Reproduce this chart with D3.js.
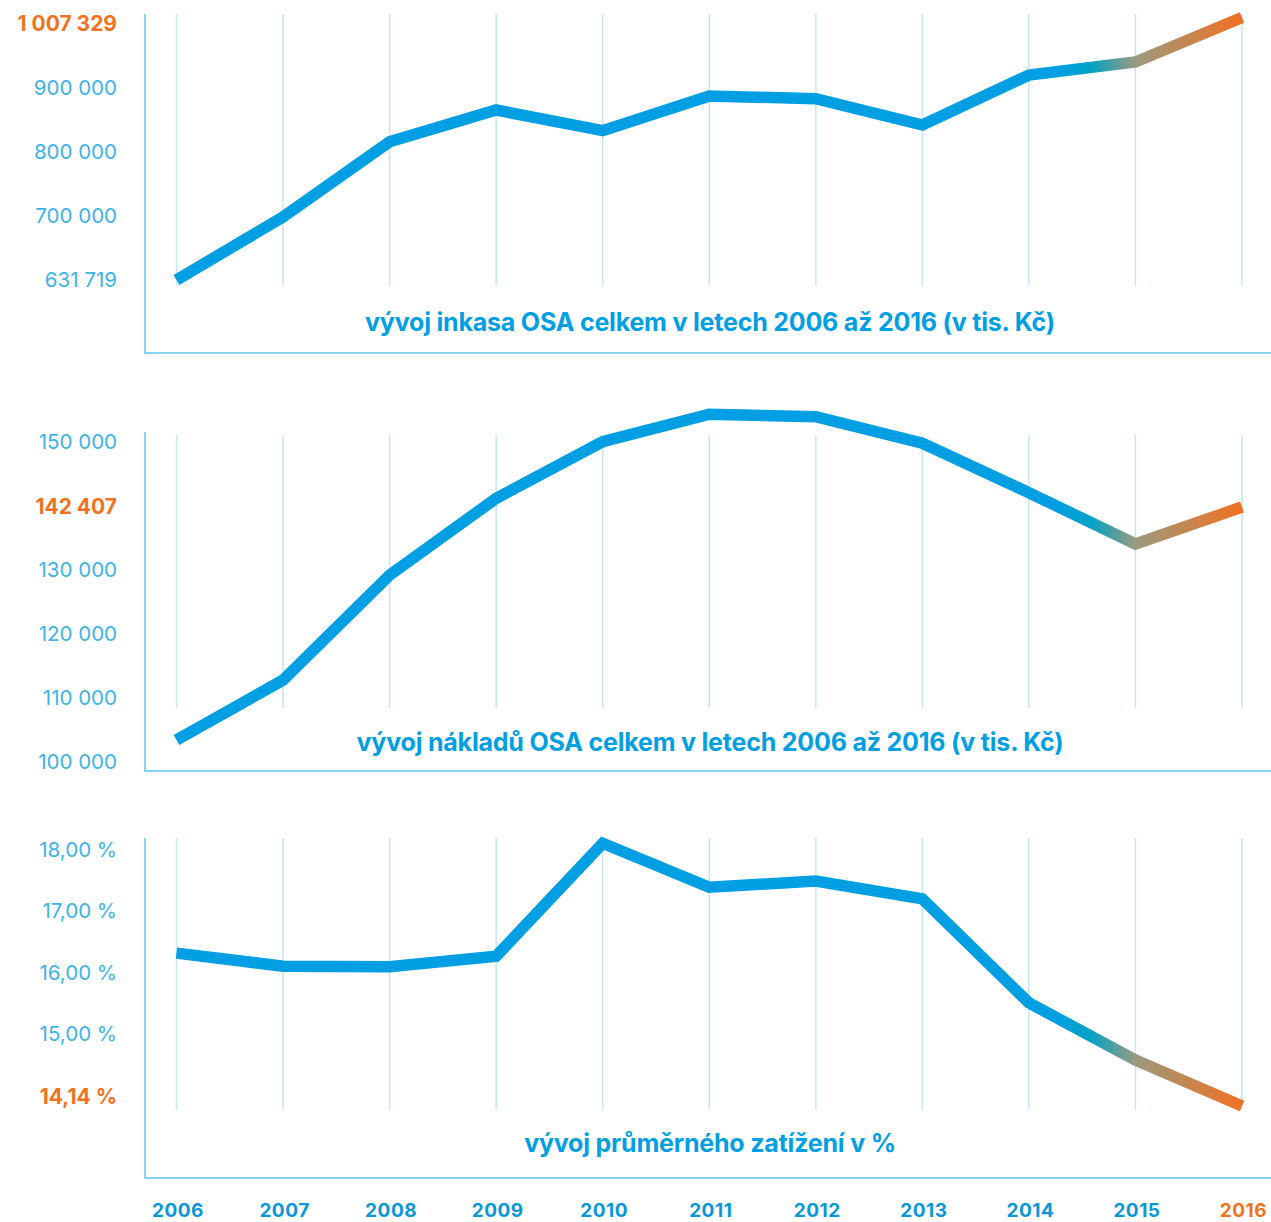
<!DOCTYPE html>
<html>
<head>
<meta charset="utf-8">
<script src="https://cdn.jsdelivr.net/npm/d3@7"></script>
<style>
  body { margin: 0; background: #fff; }
  svg { display: block; font-family: Inter, Roboto, "Liberation Sans", sans-serif; }
</style>
</head>
<body>
<script>
// values
const years = [2006, 2007, 2008, 2009, 2010, 2011, 2012, 2013, 2014, 2015, 2016];
const inkaso = [631719, 699000, 816000, 865600, 833300, 887500, 883300, 842200, 919800, 939600, 1007329];
const naklady = [103440, 112800, 129200, 143420, 150040, 153240, 152960, 149850, 144080, 135120, 142407];
const zatizeni = [16.32, 16.11, 16.10, 16.27, 18.11, 17.39, 17.49, 17.20, 15.51, 14.69, 14.14];

const inkasoTicks = [631719, 700000, 800000, 900000, 1007329];
const nakladyTicks = [100000, 110000, 120000, 130000, 142407, 150000];
const zatizeniTicks = [14.14, 15, 16, 17, 18];

const titles = [
  "vývoj inkasa OSA celkem v letech 2006 až 2016 (v tis. Kč)",
  "vývoj nákladů OSA celkem v letech 2006 až 2016 (v tis. Kč)",
  "vývoj průměrného zatížení v %"
];

const blue = "#009fe3";
const orange = "#f07320";
const labelBlue = "#3db3ea";
const gridBlue = "#c3e6f7";
const axisBlue = "#62c3ef";
// gradient on the last stretch of each line
const gradStops = [
  [1060, "#009fe3"],
  [1090, "#00a2c6"],
  [1136, "#9b9a7e"],
  [1242, "#f37021"]
];

const W = 1271, H = 1222;
const svg = d3.select("body").append("svg").attr("width", W).attr("height", H);

const cz = d3.formatLocale({decimal: ",", thousands: "\u00a0", grouping: [3], currency: ["", " Kč"]});
const fmtInt = cz.format(",d");
const fmtPct = v => cz.format(",.2f")(v) + "\u00a0%";

const x = d3.scalePoint().domain(years).range([176.5, 1242]);

const grad = svg.append("defs").append("linearGradient")
  .attr("id", "endGrad")
  .attr("gradientUnits", "userSpaceOnUse")
  .attr("x1", 0).attr("x2", W).attr("y1", 0).attr("y2", 0);
gradStops.forEach(s => {
  grad.append("stop").attr("offset", s[0] / W).attr("stop-color", s[1]);
});

const panels = [
  {values: inkaso, ticks: inkasoTicks, hi: 1007329, fmt: fmtInt,
   tickY: [280, 216, 152, 88, 17.5], hiNudge: 5.5,
   top: 14, gridBottom: 286, axisBottom: 353, titleY: 322},
  {values: naklady, ticks: nakladyTicks, hi: 142407, fmt: fmtInt,
   tickY: [762, 698, 634, 570, 507, 442], hiNudge: -1,
   top: 432, gridTop: 435, gridBottom: 708, axisBottom: 771, titleY: 742},
  {values: zatizeni, ticks: zatizeniTicks, hi: 14.14, fmt: fmtPct,
   tickY: [1106, 1034, 973, 911, 850], hiNudge: -10,
   top: 838, gridBottom: 1110, axisBottom: 1178, titleY: 1143}
];

panels.forEach((p, i) => {
  const g = svg.append("g");
  const y = d3.scaleLinear().domain(p.ticks).range(p.tickY);

  // vertical grid
  g.selectAll("line.grid").data(years).join("line")
    .attr("class", "grid")
    .attr("x1", d => x(d)).attr("x2", d => x(d))
    .attr("y1", p.gridTop || p.top).attr("y2", p.gridBottom)
    .attr("stroke", gridBlue).attr("stroke-width", 1.5);

  // axis frame
  g.append("path")
    .attr("d", `M145,${p.top}V${p.axisBottom}H${W}`)
    .attr("fill", "none").attr("stroke", axisBlue).attr("stroke-width", 1.5);

  // tick labels
  g.selectAll("text.tick").data(p.ticks).join("text")
    .attr("class", "tick")
    .attr("x", 117)
    .attr("y", d => y(d) + (d === p.hi ? p.hiNudge : 0))
    .attr("dy", "0.36em")
    .attr("text-anchor", "end")
    .attr("font-size", d => d === p.hi ? 21 : 20.5)
    .attr("font-weight", d => d === p.hi ? 700 : 400)
    .attr("fill", d => d === p.hi ? orange : labelBlue)
    .text(d => p.fmt(d));

  // title
  g.append("text")
    .attr("x", 710).attr("y", p.titleY).attr("dy", "0.36em")
    .attr("text-anchor", "middle")
    .attr("font-size", 25).attr("font-weight", 700)
    .attr("letter-spacing", -0.2)
    .attr("fill", blue)
    .text(titles[i]);

  // the line
  const line = d3.line().x((d, j) => x(years[j])).y(d => y(d));
  g.append("path")
    .datum(p.values)
    .attr("d", line)
    .attr("fill", "none")
    .attr("stroke", "url(#endGrad)")
    .attr("stroke-width", 11.5)
    .attr("stroke-linejoin", "miter")
    .attr("stroke-linecap", "butt");
});

// years along the bottom
svg.append("g").selectAll("text").data(years).join("text")
  .attr("x", d => x(d) + 1.5)
  .attr("y", 1210).attr("dy", "0.36em")
  .attr("text-anchor", "middle")
  .attr("font-size", 19).attr("font-weight", 700)
  .attr("letter-spacing", 0.5)
  .attr("fill", d => d === 2016 ? orange : "#0a97d8")
  .text(d => d);
</script>
</body>
</html>
